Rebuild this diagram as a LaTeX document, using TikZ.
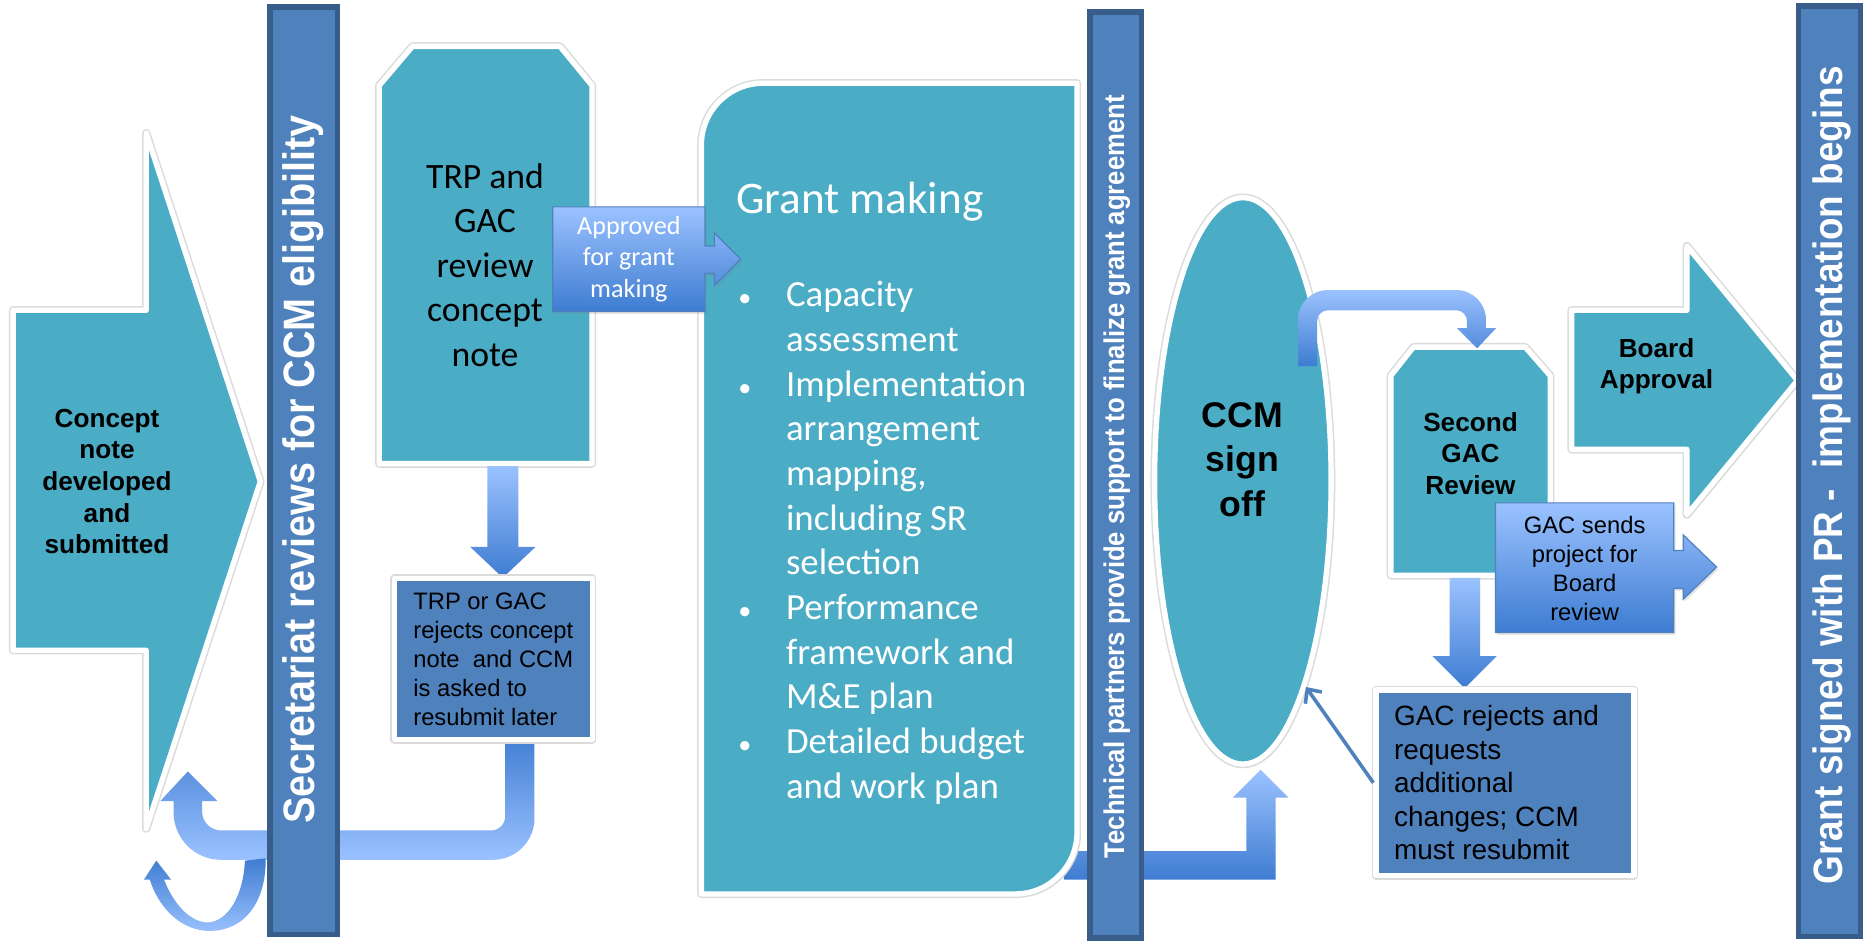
\documentclass[tikz,border=0pt]{standalone}
\usepackage{fontspec}
\setmainfont{Liberation Sans}
\newfontfamily\calibri{Carlito}
\newfontfamily\barfont[FakeStretch=0.9]{Liberation Sans}
\usetikzlibrary{shapes.geometric,shadows,arrows.meta}

\definecolor{tealfill}{RGB}{75,172,198}
\definecolor{barblue}{RGB}{79,129,189}
\definecolor{barline}{RGB}{56,93,138}
\definecolor{arrowlight}{RGB}{155,194,255}
\definecolor{arrowdark}{RGB}{62,124,209}
\newcommand{\dotitem}{{\fontsize{22}{22}\selectfont\textbullet}}

\begin{document}
\begin{tikzpicture}[x=1pt,y=-1pt,
    softshadow/.style={drop shadow={shadow xshift=1.5pt,shadow yshift=-2pt,opacity=0.2}},
    halo/.style={preaction={draw=black!14,line width=7pt,line join=round}},
    tealshape/.style={halo,fill=tealfill,draw=white,line width=4.5pt,line join=round,softshadow},
    bluebar/.style={fill=barblue,draw=barline,line width=4.5pt},
    rejbox/.style={halo,fill=barblue,draw=white,line width=4.5pt,line join=round,inner sep=0,softshadow},
    blockarrow/.style={top color=arrowlight,bottom color=arrowdark},
    backarrow/.style={top color=arrowdark,bottom color=arrowlight},
    callout/.style={top color=arrowlight,bottom color=arrowdark,draw=barblue,line width=1pt,softshadow},
    bartext/.style={rotate=90,text=white,inner sep=0},
    steptext/.style={align=center,inner sep=0,font=\bfseries\fontsize{22}{26.6}\selectfont},
    notetext/.style={align=left,inner sep=0,anchor=west,font=\fontsize{20}{24.3}\selectfont},
    thinarrow/.style={draw=barblue,line width=3pt,-{Straight Barb[length=9pt,width=17pt]}}]

\fill[white] (0,0) rectangle (1568,792);
\useasboundingbox (0,0) rectangle (1568,792);

% arrows lying behind the boxes
\path[backarrow] (425,615) -- (425,686.6) arc[start angle=0,end angle=-90,radius=12pt]
    -- (186,698.6) arc[start angle=270,end angle=180,radius=16pt]
    -- (170,674) -- (183,674) -- (158,649) -- (134.7,674) -- (146,674) -- (146,683.3)
    arc[start angle=180,end angle=270,radius=40pt]
    -- (414.6,723.3) arc[start angle=270,end angle=360,radius=35pt]
    -- (449.6,615) -- cycle;
\path[backarrow] (223.5,722) .. controls (224,765) and (200,785) .. (173,783)
    .. controls (150,781) and (133,762) .. (126,740) -- (121,740) -- (131.5,724)
    -- (144,740) -- (138,740) .. controls (145,758) and (158,775) .. (174,776)
    .. controls (192,776) and (205,752) .. (206,724) -- cycle;
\path[blockarrow] (895,716) -- (1048.5,716) -- (1048.5,671) -- (1037,671) -- (1060.5,647.5)
    -- (1084,671) -- (1073,671) -- (1073,740) -- (895,740) -- cycle;

% teal steps
\draw[tealshape] (11,261) -- (123,261) -- (123,112) -- (219,405) -- (123,697) -- (123,547) -- (11,547) -- cycle;
\node[steptext] (concept) at (90,405) {Concept\\note\\developed\\and\\submitted};

\draw[tealshape] (319,72) -- (347,39) -- (471,39) -- (498,72) -- (498,390) -- (319,390) -- cycle;
\node[align=center,inner sep=0,font=\calibri\fontsize{30}{37.5}\selectfont] (trp) at (408,223)
    {TRP and\\GAC\\review\\concept\\note};

\draw[tealshape] (590,752) -- (590,122) arc[start angle=180,end angle=90,radius=52pt]
    -- (906,70) -- (906,700) arc[start angle=0,end angle=-90,radius=52pt] -- cycle;
\node[anchor=base west,inner sep=0,text=white,font=\calibri\fontsize{38}{46}\selectfont] (grant) at (619,179.5) {Grant making};
\node[anchor=base west,inner sep=0,text=white,font=\calibri\fontsize{31}{37.6}\selectfont] (tasks) at (621,258)
    {\begin{tabular}[t]{@{}p{40pt}@{}l@{}}
     \dotitem & Capacity\\
      & assessment\\
     \dotitem & Implementation\\
      & arrangement\\
      & mapping,\\
      & including SR\\
      & selection\\
     \dotitem & Performance\\
      & framework and\\
      & M\&E plan\\
     \dotitem & Detailed budget\\
      & and work plan
     \end{tabular}};

\node[tealshape,ellipse,minimum width=148.5pt,minimum height=476.5pt,inner sep=0] (ccm) at (1045.5,404.5) {};
\node[align=center,inner sep=0,font=\bfseries\fontsize{30}{37.5}\selectfont] (ccmtext) at (1045,386.5) {CCM\\sign\\off};

\draw[tealshape] (1170,316) -- (1189,292) -- (1283,292) -- (1304,316) -- (1304,484) -- (1170,484) -- cycle;
\node[steptext] (second) at (1237,381.5) {Second\\GAC\\Review};

\draw[tealshape] (1322,261) -- (1419,261) -- (1419,207) -- (1512,320) -- (1419,433) -- (1419,378) -- (1322,378) -- cycle;
\node[steptext] (board) at (1393.5,308) {Board\\Approval};

% CCM over to the second review
\path[blockarrow] (1092,308) -- (1092,269) arc[start angle=180,end angle=90,radius=25pt]
    -- (1225,244) arc[start angle=90,end angle=0,radius=25pt]
    -- (1250,276) -- (1258.6,276) -- (1242.5,293) -- (1225.6,276) -- (1234,276) -- (1234,270)
    arc[start angle=0,end angle=90,radius=9pt]
    -- (1117,261) arc[start angle=90,end angle=180,radius=9pt]
    -- (1108,308) -- cycle;

% down arrows
\path[blockarrow] (410,392) -- (436,392) -- (436,460) -- (450.5,460) -- (423,486) -- (395.5,460) -- (410,460) -- cycle;
\path[blockarrow] (1219.5,486) -- (1245,486) -- (1245,552) -- (1259,552) -- (1232,579) -- (1205,552) -- (1219.5,552) -- cycle;

% rejection boxes
\node[rejbox,minimum width=166.5pt,minimum height=135.5pt] (trprej) at (415,554.5) {};
\node[notetext] (trprejtext) at (347.5,554.5) {TRP or GAC\\rejects concept\\note \ and CCM\\is asked to\\resubmit later};
\node[rejbox,minimum width=217pt,minimum height=156pt] (gacrej) at (1266,658.5) {};
\node[notetext,font=\fontsize{23.5}{28.2}\selectfont] (gacrejtext) at (1172.5,658.5)
    {GAC rejects and\\requests\\additional\\changes; CCM\\must resubmit};
\draw[thinarrow] (gacrej.west) -- (ccm.-73);

% callouts
\draw[callout] (465,174) -- (593,174) -- (593,207) -- (601,207) -- (601,196) -- (623,218) -- (601,240)
    -- (601,230) -- (593,230) -- (593,262) -- (465,262) -- cycle;
\node[align=center,inner sep=0,text=white,font=\calibri\fontsize{22}{26.5}\selectfont] (approved) at (529,218)
    {Approved\\for grant\\making};
\draw[callout] (1258,423) -- (1408,423) -- (1408,463) -- (1416,463) -- (1416,450) -- (1444,477) -- (1416,504)
    -- (1416,495) -- (1408,495) -- (1408,532) -- (1258,532) -- cycle;
\node[align=center,inner sep=0,font=\fontsize{20}{24.3}\selectfont] (sends) at (1333,478)
    {GAC sends\\project for\\Board\\review};

% vertical bars
\draw[bluebar] (227,6) rectangle (284,786);
\node[bartext,font=\barfont\bfseries\fontsize{37}{40}\selectfont] (secretariat) at (255,395)
    {Secretariat reviews for CCM eligibility};
\draw[bluebar] (917,10) rectangle (960,789);
\node[bartext,font=\barfont\bfseries\fontsize{24}{28}\selectfont] (partners) at (939.5,401)
    {Technical partners provide support to finalize grant agreement};
\draw[bluebar] (1513,5) rectangle (1565,788);
\node[bartext,font=\barfont\bfseries\fontsize{34.5}{38}\selectfont] (signed) at (1541,400)
    {Grant signed with PR - \ implementation begins};
\end{tikzpicture}
\end{document}
